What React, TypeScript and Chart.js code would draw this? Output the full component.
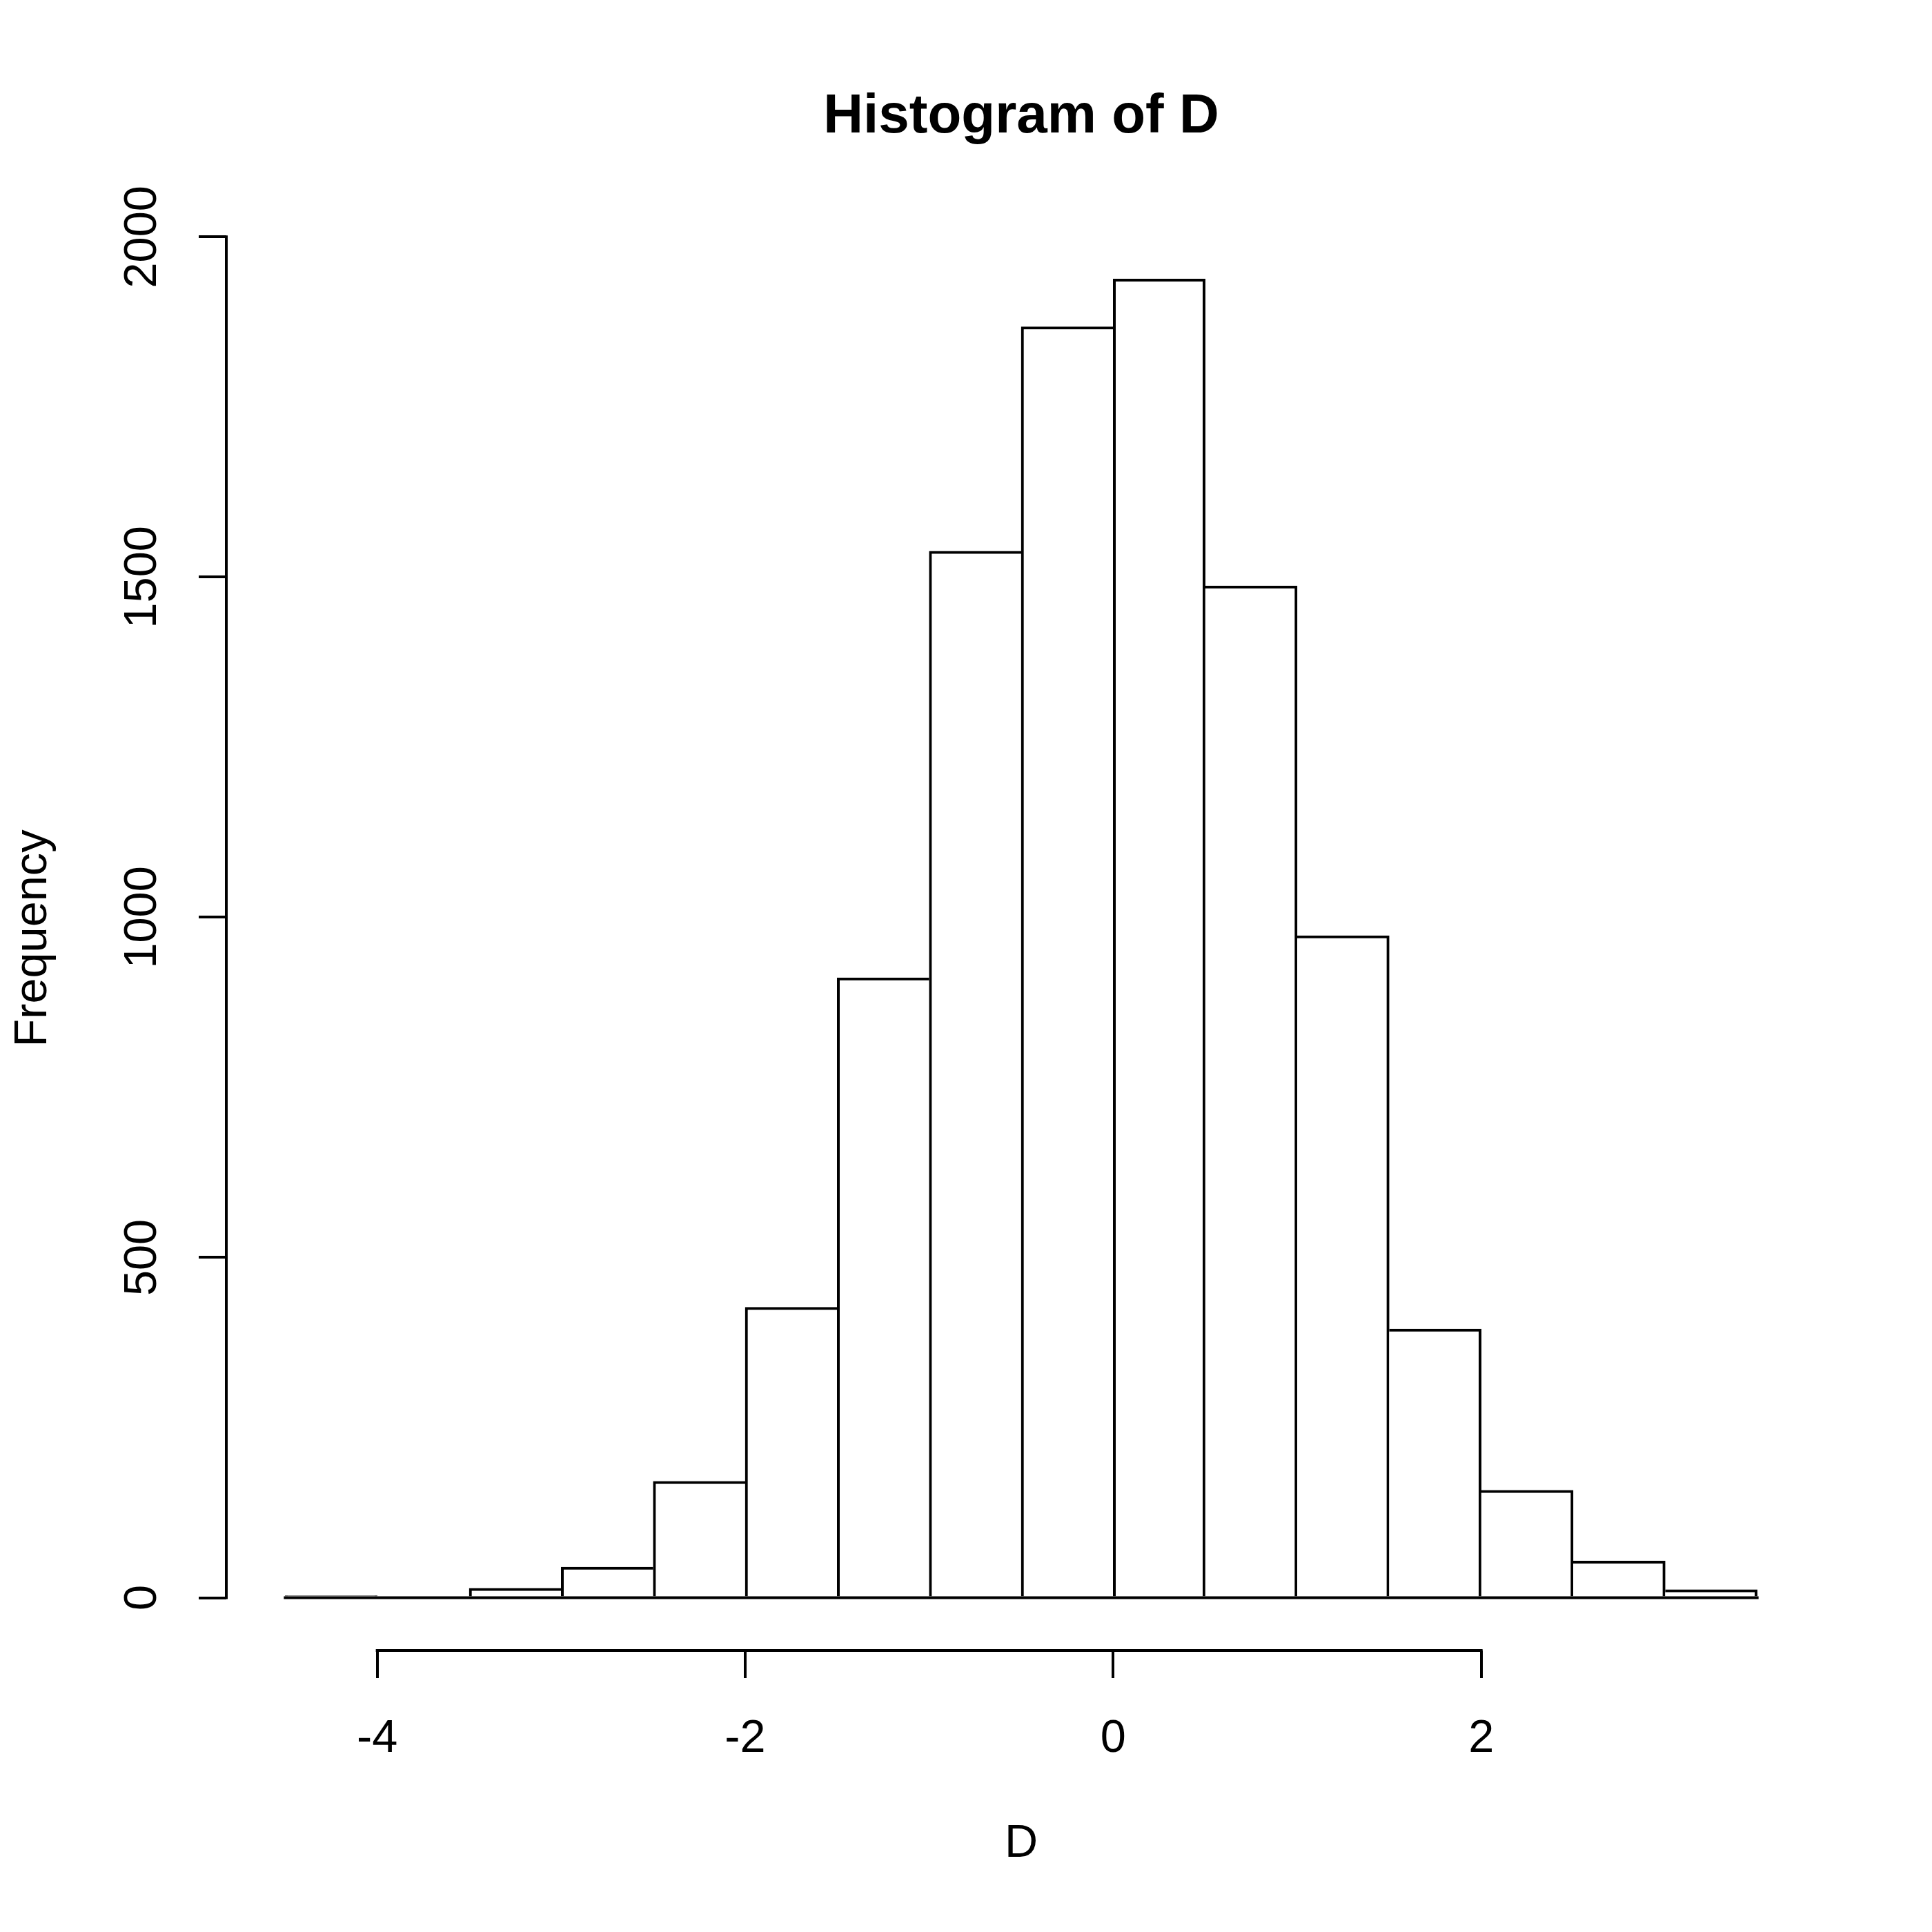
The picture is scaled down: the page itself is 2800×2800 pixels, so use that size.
import React, { useEffect, useRef } from "react";
import { Chart, registerables } from "chart.js";

Chart.register(...registerables);

// ---- data ----
const chartTitle = "Histogram of D";
const xAxisTitle = "D";
const yAxisTitle = "Frequency";
const binEdges = [-4.5, -4, -3.5, -3, -2.5, -2, -1.5, -1, -0.5, 0, 0.5, 1, 1.5, 2, 2.5, 3, 3.5];
const counts = [3, 1, 14, 45, 171, 427, 911, 1538, 1868, 1938, 1487, 973, 395, 158, 54, 12];
const xTickValues = [-4, -2, 0, 2];
const xTickLabels = ["-4", "-2", "0", "2"];
const yTickValues = [0, 500, 1000, 1500, 2000];
const yTickLabels = ["0", "500", "1000", "1500", "2000"];
const xRange = [-4.82, 3.82];
const yRange = [-77.52, 2015.52];

const FONT = "'Liberation Sans', Arial, Helvetica, sans-serif";
const LW = 4;

const barPoints = counts.map((c, i) => ({ x: (binEdges[i] + binEdges[i + 1]) / 2, y: c }));

const rAxisLines = {
  id: "rAxisLines",
  afterDraw(chart: any) {
    const { ctx } = chart;
    const x = chart.scales.x;
    const y = chart.scales.y;
    ctx.save();
    ctx.strokeStyle = "#000";
    ctx.lineWidth = LW;
    ctx.lineCap = "square";
    ctx.beginPath();
    // x axis line between first and last tick
    ctx.moveTo(x.getPixelForValue(xTickValues[0]), x.top);
    ctx.lineTo(x.getPixelForValue(xTickValues[xTickValues.length - 1]), x.top);
    // y axis line between first and last tick
    ctx.moveTo(y.right, y.getPixelForValue(yTickValues[0]));
    ctx.lineTo(y.right, y.getPixelForValue(yTickValues[yTickValues.length - 1]));
    ctx.stroke();
    // baseline of the histogram bars
    ctx.lineCap = "butt";
    ctx.beginPath();
    ctx.moveTo(x.getPixelForValue(binEdges[0]) - LW / 2, y.getPixelForValue(0));
    ctx.lineTo(x.getPixelForValue(binEdges[binEdges.length - 1]) + LW / 2, y.getPixelForValue(0));
    ctx.stroke();
    ctx.restore();
  },
};

export default function App() {
  const ref = useRef<HTMLCanvasElement>(null);

  useEffect(() => {
    const canvas = ref.current;
    if (!canvas) return;
    Chart.defaults.font.family = FONT;
    Chart.defaults.color = "#000";

    const chart = new Chart(canvas, {
      type: "bar",
      data: {
        datasets: [
          {
            data: barPoints as any,
            backgroundColor: "#ffffff",
            borderColor: "#000000",
            borderWidth: ((ctx: any) => {
              const i = ctx.dataIndex;
              const prev = i > 0 ? counts[i - 1] : -1;
              const next = i < counts.length - 1 ? counts[i + 1] : -1;
              return {
                top: LW,
                bottom: 0,
                left: counts[i] >= prev ? LW : 0,
                right: counts[i] > next ? LW : 0,
              };
            }) as any,
            barPercentage: 1,
            categoryPercentage: 1,
            grouped: false,
          },
        ],
      },
      plugins: [rAxisLines],
      options: {
        responsive: false,
        maintainAspectRatio: false,
        animation: false,
        devicePixelRatio: 1,
        layout: { padding: { left: 0, right: 168, top: 0, bottom: 0 } },
        plugins: {
          legend: { display: false },
          tooltip: { enabled: false },
          title: {
            display: true,
            fullSize: false,
            text: chartTitle,
            color: "#000",
            font: { size: 80, weight: "bold", family: FONT, lineHeight: 1.2 },
            padding: { top: 122, bottom: 110 },
          },
        },
        scales: {
          x: {
            type: "linear",
            min: xRange[0],
            max: xRange[1],
            offset: false,
            border: { display: false },
            grid: {
              offset: false,
              drawOnChartArea: false,
              drawTicks: true,
              tickLength: 40,
              tickWidth: LW,
              tickColor: "#000",
              lineWidth: LW,
              color: "#000",
            },
            ticks: {
              font: { size: 66.67, family: FONT },
              color: "#000",
              padding: 49,
              maxRotation: 0,
              autoSkip: false,
              callback: (_v: any, i: number) => xTickLabels[i],
            },
            title: {
              display: true,
              text: xAxisTitle,
              color: "#000",
              font: { size: 66.67, family: FONT, lineHeight: 1.2 },
              padding: { top: 0, bottom: 87 },
            },
            afterBuildTicks: (s: any) => {
              s.ticks = xTickValues.map((v) => ({ value: v }));
            },
            afterFit: (s: any) => {
              s.height = 408;
            },
          },
          y: {
            type: "linear",
            min: yRange[0],
            max: yRange[1],
            border: { display: false },
            grid: {
              offset: false,
              drawOnChartArea: false,
              drawTicks: true,
              tickLength: 40,
              tickWidth: LW,
              tickColor: "#000",
              lineWidth: LW,
              color: "#000",
            },
            ticks: {
              font: { size: 66.67, family: FONT },
              color: "#000",
              padding: 6,
              minRotation: 90,
              maxRotation: 90,
              crossAlign: "center",
              autoSkip: false,
              callback: (_v: any, i: number) => yTickLabels[i],
            },
            title: {
              display: true,
              text: yAxisTitle,
              color: "#000",
              font: { size: 66.67, family: FONT, lineHeight: 1.2 },
              padding: { top: 9, bottom: 0 },
            },
            afterBuildTicks: (s: any) => {
              s.ticks = yTickValues.map((v) => ({ value: v }));
            },
            afterFit: (s: any) => {
              s.width = 328;
            },
          },
        },
      } as any,
    });
    return () => chart.destroy();
  }, []);

  return (
    <div
      style={{
        position: "absolute",
        left: 0,
        top: 0,
        width: 2800,
        height: 2800,
        background: "#ffffff",
      }}
    >
      <canvas
        ref={ref}
        width={2800}
        height={2800}
        style={{ display: "block", width: 2800, height: 2800 }}
      />
    </div>
  );
}
